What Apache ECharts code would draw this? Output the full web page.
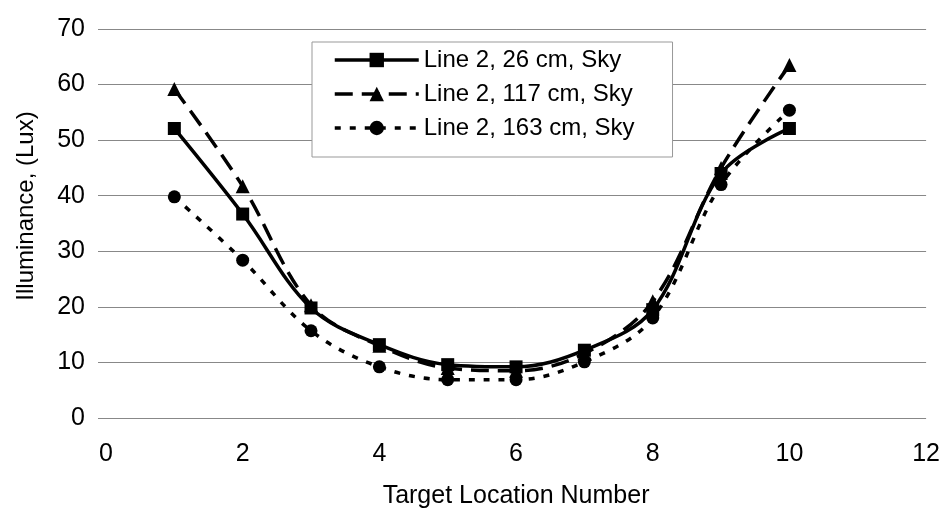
<!DOCTYPE html>
<html><head><meta charset="utf-8">
<script src="https://cdn.jsdelivr.net/npm/echarts@6/dist/echarts.min.js"></script>
<style>html,body{margin:0;padding:0;background:#fff}#c{width:943px;height:521px}</style>
</head><body><div id="c"></div>
<script>
const xValues = [1,2,3,4,5,6,7,8,9,10];
const s26 = [52.1, 36.7, 19.8, 13.2, 9.6, 9.2, 12.2, 19.5, 44, 52.1];
const s117 = [59.2, 41.7, 20.3, 13.0, 9.0, 8.5, 11.6, 21.0, 45, 63.5];
const s163 = [39.8, 28.4, 15.7, 9.2, 6.9, 6.9, 10.1, 18.0, 42, 55.4];
const names = ['Line 2, 26 cm, Sky','Line 2, 117 cm, Sky','Line 2, 163 cm, Sky'];
const xTicks = [0,2,4,6,8,10,12];
const yTicks = [0,10,20,30,40,50,60,70];
const yTitle = 'Illuminance, (Lux)';
const xTitle = 'Target Location Number';

const font = 'Liberation Sans, Arial, sans-serif';
function pairs(arr){ return arr.map((v,i)=>[xValues[i], v]); }
const chart = echarts.init(document.getElementById('c'), null, {renderer:'canvas'});
chart.setOption({
  animation:false,
  backgroundColor:'#fff',
  grid:{left:106, right:15, top:29, bottom:103},
  legend:{
    left:312, top:42, orient:'vertical',
    backgroundColor:'#fff', borderColor:'#999', borderWidth:1,
    padding:[6,38,17,21], itemGap:10, itemWidth:84, itemHeight:18,
    lineStyle:{width:3.5},
    textStyle:{fontFamily:font, fontSize:24, color:'#000'},
    data:names
  },
  graphic:[{
    type:'text', x:26, y:206, rotation:Math.PI/2,
    style:{text:yTitle, fontFamily:font, fontSize:24, fill:'#000', align:'center', verticalAlign:'middle'}
  }],
  xAxis:{
    type:'value', min:0, max:12, interval:2,
    axisLine:{show:false}, axisTick:{show:false}, splitLine:{show:false},
    axisLabel:{fontFamily:font, fontSize:25, color:'#000', margin:24},
    name:xTitle, nameLocation:'middle', nameGap:66,
    nameTextStyle:{fontFamily:font, fontSize:25, color:'#000', verticalAlign:'top'}
  },
  yAxis:{
    type:'value', min:0, max:70, interval:10,
    axisLine:{show:false}, axisTick:{show:true, length:8, lineStyle:{color:'#888'}},
    splitLine:{lineStyle:{color:'#888', width:1}},
    axisLabel:{fontFamily:font, fontSize:25, color:'#000', margin:21}
  },
  series:[
    {name:names[0], type:'line', smooth:0.35, data:pairs(s26), symbol:'rect', symbolSize:13,
     itemStyle:{color:'#000'}, lineStyle:{color:'#000', width:3.5, type:'solid'}},
    {name:names[1], type:'line', smooth:0.35, data:pairs(s117), symbol:'triangle', symbolSize:14,
     itemStyle:{color:'#000'}, lineStyle:{color:'#000', width:3.5, type:[18,9]}},
    {name:names[2], type:'line', smooth:0.35, data:pairs(s163), symbol:'circle', symbolSize:13,
     itemStyle:{color:'#000'}, lineStyle:{color:'#000', width:3.5, type:[6,9]}}
  ]
});
</script></body></html>
